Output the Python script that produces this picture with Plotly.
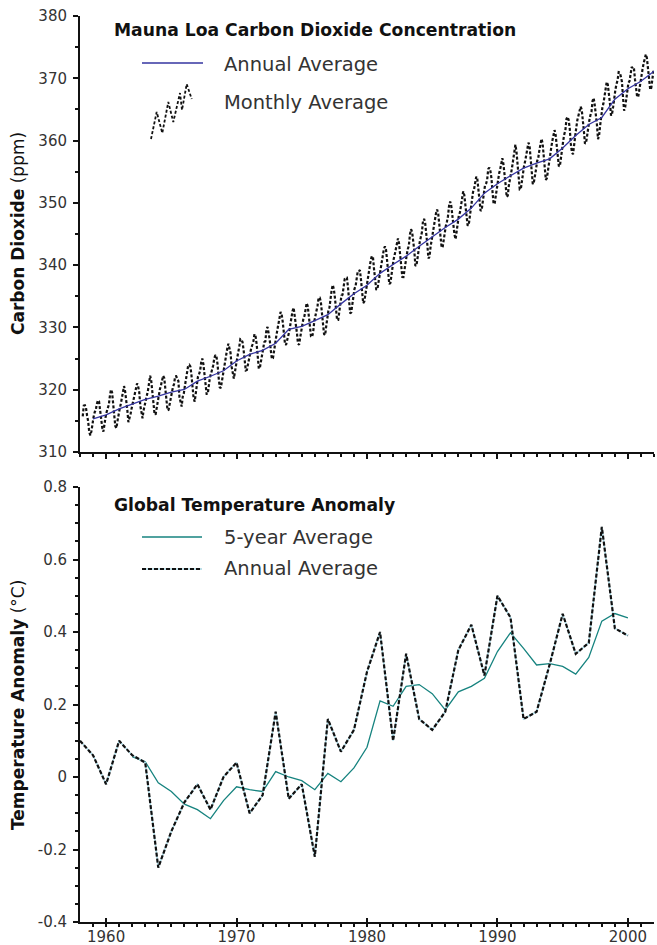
import plotly.graph_objects as go

# ---------------- data ----------------
# Mauna Loa monthly mean CO2 (ppm), starting March 1958
co2_start_year = 1958
co2_start_month = 3
co2_monthly = [
    315.71, 317.45, 317.50, 317.10, 315.86, 314.93, 313.20, 312.66, 313.33, 314.67,
    315.62, 316.38, 316.71, 317.72, 318.29, 318.15, 316.54, 314.80, 313.84, 313.26, 314.80, 315.58,
    316.43, 316.97, 317.58, 319.02, 320.03, 319.59, 318.18, 315.91, 314.16, 313.83, 315.00, 316.19,
    316.93, 317.70, 318.54, 319.48, 320.58, 319.77, 318.57, 316.79, 314.80, 315.38, 316.10, 317.01,
    317.94, 318.56, 319.68, 320.63, 321.01, 320.55, 319.58, 317.40, 316.26, 315.42, 316.69, 317.69,
    318.74, 319.08, 319.86, 321.39, 322.25, 321.47, 319.74, 317.77, 316.21, 315.99, 317.12, 318.31,
    319.57, 320.07, 320.73, 321.77, 322.25, 321.89, 320.44, 318.70, 316.70, 316.79, 317.79, 318.71,
    319.44, 320.44, 320.89, 322.13, 322.16, 321.87, 321.39, 318.81, 317.81, 317.30, 318.87, 319.42,
    320.62, 321.59, 322.39, 323.87, 324.01, 323.75, 322.39, 320.37, 318.64, 318.10, 319.79, 321.08,
    322.07, 322.50, 323.04, 324.42, 325.00, 324.09, 322.55, 320.92, 319.31, 319.31, 320.72, 321.96,
    322.57, 323.15, 323.89, 325.02, 325.57, 325.36, 324.14, 322.03, 320.41, 320.25, 321.31, 322.84,
    324.00, 324.42, 325.64, 326.66, 327.38, 326.70, 325.89, 323.67, 322.38, 321.78, 322.85, 324.12,
    325.03, 325.99, 326.87, 328.13, 328.07, 327.66, 326.35, 324.69, 323.10, 323.16, 323.98, 325.13,
    326.17, 326.68, 327.18, 327.78, 328.92, 328.57, 327.34, 325.46, 323.36, 323.57, 324.80, 326.01,
    326.77, 327.63, 327.75, 329.72, 330.07, 329.09, 328.05, 326.32, 324.93, 325.06, 326.50, 327.55,
    328.54, 329.56, 330.30, 331.50, 332.48, 332.07, 330.87, 329.31, 327.51, 327.18, 328.16, 328.64,
    329.35, 330.71, 331.48, 332.65, 333.16, 332.06, 330.99, 329.17, 327.41, 327.20, 328.33, 329.50,
    330.68, 331.41, 331.85, 333.29, 333.91, 333.40, 331.78, 329.88, 328.57, 328.46, 329.26, 330.97,
    331.71, 332.76, 333.48, 334.78, 334.78, 334.17, 332.78, 330.64, 328.95, 328.77, 330.23, 331.69,
    332.70, 333.24, 334.96, 336.04, 336.82, 336.13, 334.73, 332.52, 331.19, 331.19, 332.35, 333.47,
    335.11, 335.26, 336.60, 337.77, 338.00, 337.99, 336.48, 334.37, 332.27, 332.41, 333.76, 334.83,
    336.21, 336.64, 338.12, 339.02, 339.02, 339.20, 337.58, 335.55, 333.89, 334.14, 335.26, 336.71,
    337.81, 338.29, 340.04, 340.86, 341.47, 341.26, 339.29, 337.60, 336.12, 336.08, 337.22, 338.34,
    339.36, 340.51, 341.57, 342.56, 343.01, 342.47, 340.71, 338.52, 336.96, 337.13, 338.58, 339.89,
    340.93, 341.69, 342.69, 343.79, 344.30, 343.43, 341.94, 339.75, 338.11, 338.09, 339.53, 340.88,
    341.57, 342.57, 343.12, 344.94, 345.76, 345.32, 343.98, 342.38, 339.87, 339.99, 341.15, 342.99,
    343.70, 344.50, 345.28, 347.06, 347.43, 346.80, 345.39, 343.28, 341.07, 341.35, 342.98, 344.22,
    344.97, 345.99, 347.42, 348.35, 348.93, 348.25, 346.56, 344.69, 343.09, 342.80, 344.24, 345.56,
    346.29, 346.96, 347.86, 349.55, 350.21, 349.54, 347.94, 345.91, 344.86, 344.17, 345.66, 346.90,
    348.02, 348.47, 349.42, 350.99, 351.84, 351.25, 349.52, 348.10, 346.44, 346.36, 347.81, 348.96,
    350.43, 351.72, 352.22, 353.59, 354.22, 353.79, 352.39, 350.44, 348.72, 348.88, 350.07, 351.34,
    352.76, 353.07, 353.68, 355.42, 355.67, 355.13, 353.90, 351.67, 349.80, 349.99, 351.30, 352.53,
    353.66, 354.70, 355.39, 356.20, 357.16, 356.22, 354.82, 352.91, 350.96, 351.18, 352.83, 354.21,
    354.72, 355.75, 357.16, 358.60, 359.34, 358.24, 356.17, 354.03, 352.16, 352.21, 353.75, 354.99,
    355.98, 356.72, 357.81, 359.15, 359.66, 359.25, 357.03, 355.00, 353.01, 353.31, 354.16, 355.40,
    356.70, 357.16, 358.38, 359.46, 360.28, 359.60, 357.57, 355.52, 353.70, 353.98, 355.33, 356.80,
    358.36, 358.91, 359.97, 361.26, 361.68, 360.95, 359.55, 357.49, 355.84, 356.00, 357.59, 359.05,
    359.98, 361.03, 361.66, 363.48, 363.82, 363.30, 361.94, 359.50, 358.11, 357.80, 359.61, 360.74,
    362.09, 363.29, 364.06, 364.76, 365.45, 365.01, 363.70, 361.54, 359.51, 359.65, 360.80, 362.38,
    363.23, 364.06, 364.61, 366.40, 366.84, 365.68, 364.52, 362.57, 360.24, 360.83, 362.49, 364.34,
    365.27, 365.98, 367.24, 368.66, 369.42, 368.99, 367.82, 365.95, 364.02, 364.40, 365.52, 367.13,
    368.18, 369.07, 369.68, 370.99, 370.96, 370.30, 369.45, 366.90, 364.81, 365.37, 366.72, 368.10,
    369.29, 369.54, 370.60, 371.82, 371.58, 371.70, 369.86, 368.13, 367.00, 367.03, 368.37, 369.67,
    370.59, 371.51, 372.43, 373.37, 373.85, 373.22, 371.50, 369.61, 368.18, 368.45, 369.76, 371.24,
]

# Annual average CO2, plotted at the end of each year
co2_annual_x = list(range(1959, 2003))
co2_annual = [
    315.33, 315.97, 316.91, 317.64, 318.45, 318.99, 319.62, 320.04, 321.38, 322.16,
    323.04, 324.62, 325.68, 326.32, 327.45, 329.68, 330.18, 331.08, 332.05, 333.78,
    335.41, 336.78, 338.68, 340.10, 341.44, 343.03, 344.58, 346.04, 347.39, 349.16,
    351.56, 353.07, 354.35, 355.57, 356.38, 357.07, 358.82, 360.80, 362.59, 363.71,
    366.65, 368.33, 369.52, 371.13,
]

# Global temperature anomaly (deg C)
temp_years = list(range(1958, 2001))
temp_annual = [
    0.10, 0.06, -0.02, 0.10, 0.06, 0.04, -0.25, -0.15, -0.07, -0.02,
    -0.09, 0.00, 0.04, -0.10, -0.05, 0.18, -0.06, -0.02, -0.22, 0.16,
    0.07, 0.13, 0.29, 0.40, 0.10, 0.34, 0.16, 0.13, 0.18, 0.35,
    0.42, 0.28, 0.50, 0.44, 0.16, 0.18, 0.31, 0.45, 0.34, 0.37,
    0.69, 0.41, 0.39,
]
temp5_years = list(range(1962, 2001))
temp_5yr = [
    0.056, 0.042, -0.016, -0.040, -0.075, -0.090, -0.115, -0.065, -0.027, -0.035,
    -0.040, 0.015, 0.000, -0.010, -0.035, 0.010, -0.013, 0.025, 0.082, 0.210,
    0.195, 0.250, 0.255, 0.230, 0.185, 0.235, 0.250, 0.272, 0.346, 0.398,
    0.355, 0.309, 0.313, 0.305, 0.284, 0.330, 0.430, 0.451, 0.439,
]

x_tickvals = [1960, 1970, 1980, 1990, 2000]
x_ticktext = ["1960", "1970", "1980", "1990", "2000"]
co2_tickvals = [310, 320, 330, 340, 350, 360, 370, 380]
co2_ticktext = ["310", "320", "330", "340", "350", "360", "370", "380"]
temp_tickvals = [-0.4, -0.2, 0.0, 0.2, 0.4, 0.6, 0.8]
temp_ticktext = ["-0.4", "-0.2", "0", "0.2", "0.4", "0.6", "0.8"]

# ---------------- layout geometry (pixels) ----------------
W, H = 657, 945
ML, MR, MT, MB = 80, 3, 16, 23
PW = W - ML - MR
PH = H - MT - MB


def px(xp):
    return (xp - ML) / PW


def py(yp):
    return (H - MB - yp) / PH


FONT = "DejaVu Sans"
BLUE = "#3535a0"
TEAL = "#16837f"
LIGHT = "#a9d6e2"

co2_x = [co2_start_year + (co2_start_month - 1 + i + 0.5) / 12 for i in range(len(co2_monthly))]

fig = go.Figure()

fig.add_trace(go.Scatter(x=co2_x, y=co2_monthly, mode="lines", xaxis="x", yaxis="y",
                         line=dict(color="#111111", width=2.2, dash="3px,2px"),
                         showlegend=False, hoverinfo="skip"))
fig.add_trace(go.Scatter(x=co2_annual_x, y=co2_annual, mode="lines", xaxis="x", yaxis="y",
                         line=dict(color=BLUE, width=1.3),
                         showlegend=False, hoverinfo="skip"))

fig.add_trace(go.Scatter(x=temp5_years, y=temp_5yr, mode="lines", xaxis="x2", yaxis="y2",
                         line=dict(color=TEAL, width=1.3),
                         showlegend=False, hoverinfo="skip"))
fig.add_trace(go.Scatter(x=temp_years, y=temp_annual, mode="lines", xaxis="x2", yaxis="y2",
                         line=dict(color=LIGHT, width=1.5),
                         showlegend=False, hoverinfo="skip"))
fig.add_trace(go.Scatter(x=temp_years, y=temp_annual, mode="lines", xaxis="x2", yaxis="y2",
                         line=dict(color="#111111", width=2.2, dash="4px,2px"),
                         showlegend=False, hoverinfo="skip"))

top_dom = [py(452), py(16)]
bot_dom = [py(922), py(487)]

axis_common = dict(showline=True, linecolor="#111111", linewidth=2,
                   tickwidth=1.5, tickcolor="#111111", showgrid=False, automargin=False,
                   zeroline=False, tickfont=dict(family=FONT, size=15, color="#333333"))
minor_common = dict(ticks="outside", ticklen=3, tickcolor="#111111", tickwidth=1.5)

fig.update_layout(
    width=W, height=H,
    margin=dict(l=ML, r=MR, t=MT, b=MB, pad=0, autoexpand=False),
    paper_bgcolor="white", plot_bgcolor="white",
    showlegend=False,
    xaxis=dict(domain=[0, 1], anchor="y", range=[1958, 2002], tickmode="array",
               tickvals=x_tickvals, ticktext=x_ticktext, showticklabels=False,
               ticks="outside", ticklen=5,
               minor=dict(dtick=1, tick0=1958, **minor_common),
               **axis_common),
    yaxis=dict(domain=top_dom, anchor="x", range=[310, 380], tickmode="array",
               tickvals=co2_tickvals, ticktext=co2_ticktext, ticklabelstandoff=3,
               ticks="outside", ticklen=5,
               minor=dict(dtick=5, tick0=310, **minor_common),
               **axis_common),
    xaxis2=dict(domain=[0, 1], anchor="y2", range=[1958, 2002], tickmode="array",
                tickvals=x_tickvals, ticktext=x_ticktext,
                ticks="inside", ticklen=4,
                minor=dict(dtick=1, tick0=1958, **minor_common),
                **axis_common),
    yaxis2=dict(domain=bot_dom, anchor="x2", range=[-0.4, 0.8], tickmode="array",
                tickvals=temp_tickvals, ticktext=temp_ticktext, ticklabelstandoff=3,
                ticks="outside", ticklen=5,
                minor=dict(dtick=0.05, tick0=-0.4, **minor_common),
                **axis_common),
)

annotations = []
shapes = []


def text(xp, yp, s, size, color="#333333", angle=0, xanchor="left"):
    annotations.append(dict(
        x=px(xp), y=py(yp), xref="paper", yref="paper", text=s, showarrow=False,
        xanchor=xanchor, yanchor="middle", textangle=angle,
        font=dict(family=FONT, size=size, color=color)))


# axis titles
text(18, 234, "<b>Carbon Dioxide</b> (ppm)", 17, color="#111111", angle=-90, xanchor="center")
text(18, 705, "<b>Temperature Anomaly</b> (°C)", 17, color="#111111", angle=-90, xanchor="center")

# top legend
text(112, 30, "<b>Mauna Loa Carbon Dioxide Concentration</b>", 17.2, color="#111111")
text(222, 64, "Annual Average", 19.5)
text(222, 102, "Monthly Average", 19.5)
shapes.append(dict(type="line", xref="paper", yref="paper", x0=px(142), x1=px(203), y0=py(63), y1=py(63),
                   line=dict(color=BLUE, width=1.3)))
zig = [(151, 139), (156.7, 112), (162.3, 133), (168.3, 102), (173.3, 122), (180, 93), (182, 110),
       (186.7, 84), (191.7, 99)]
path = "M " + " L ".join(f"{px(a):.5f},{py(b):.5f}" for a, b in zig)
shapes.append(dict(type="path", xref="paper", yref="paper", path=path,
                   line=dict(color="#111111", width=1.8, dash="3px,2px")))

# bottom legend
text(112, 505, "<b>Global Temperature Anomaly</b>", 17.2, color="#111111")
text(222, 537, "5-year Average", 19.5)
text(222, 568, "Annual Average", 19.5)
shapes.append(dict(type="line", xref="paper", yref="paper", x0=px(142), x1=px(202), y0=py(537), y1=py(537),
                   line=dict(color=TEAL, width=1.3)))
shapes.append(dict(type="line", xref="paper", yref="paper", x0=px(142), x1=px(202), y0=py(569), y1=py(569),
                   line=dict(color=LIGHT, width=1.5)))
shapes.append(dict(type="line", xref="paper", yref="paper", x0=px(142), x1=px(202), y0=py(569), y1=py(569),
                   line=dict(color="#111111", width=1.8, dash="4px,2px")))

fig.update_layout(annotations=annotations, shapes=shapes)

fig.write_html("out.html")
